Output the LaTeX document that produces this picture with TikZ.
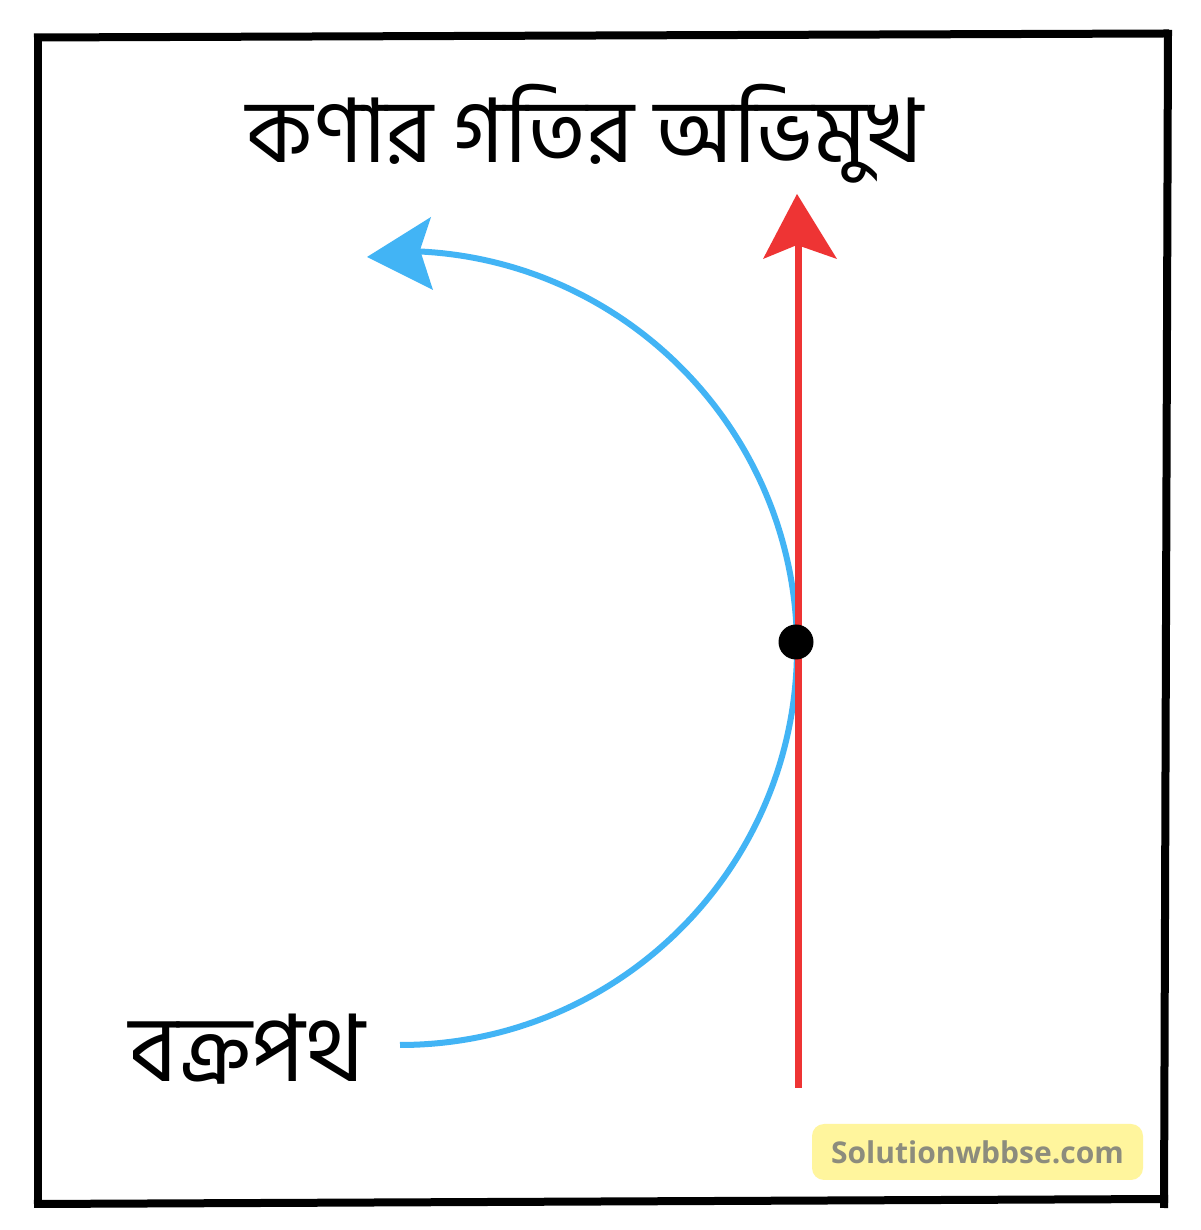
\documentclass[tikz,border=0pt]{standalone}
\usepackage{fontspec}
\newfontfamily\bnfont[Script=Bengali]{Hind Siliguri}
\newfontfamily\wmfont{Open Sans}
\definecolor{pathblue}{RGB}{66,180,245}
\definecolor{velred}{RGB}{238,52,52}
\definecolor{wmyellow}{RGB}{255,245,157}
\definecolor{wmgray}{RGB}{140,140,125}
\begin{document}
\begin{tikzpicture}[x=1pt,y=1pt,
  frameline/.style={line width=8pt,black},
  label/.style={font=\bnfont\fontsize{89}{96}\selectfont,inner sep=0pt}]
\useasboundingbox (0,0) rectangle (1200,1230);
\fill[white] (0,0) rectangle (1200,1230);
% frame
\draw[frameline] (34,1192.5) -- (1169,1196.5);
\draw[frameline] (38,1196) -- (38,22);
\draw[frameline] (34,26) -- (1168,31);
\draw[frameline] (1168,1200) -- (1164,22);
% title
\node[label] (title) at (585,1096) {কণার গতির অভিমুখ};
% curved path
\coordinate (pstart) at (400,185);
\draw[pathblue,line width=6pt] (pstart) arc[start angle=-90,end angle=90,radius=397] coordinate (pend);
\coordinate (btip) at (367,973);
\fill[pathblue] (btip) -- (431,1013) -- (420,980) -- (433,940) -- cycle;
% velocity
\coordinate (rbot) at (798,142);
\coordinate (rtop) at (798,985);
\draw[velred,line width=7pt] (rbot) -- (rtop);
\fill[velred] (797,1036) -- (763,971) -- (797,985) -- (837,971) -- cycle;
% particle
\node[circle,fill=black,minimum size=35pt,inner sep=0pt] (particle) at (796,588) {};
% label
\node[label,font=\bnfont\fontsize{93}{100}\selectfont] (curve) at (247,181) {বক্রপথ};
% watermark
\node[fill=wmyellow,rounded corners=12pt,minimum width=331pt,minimum height=56pt,inner sep=0pt,
  text=wmgray,font=\wmfont\bfseries\fontsize{30}{34}\selectfont] (wm) at (977.5,78) {Solutionwbbse.com};
\end{tikzpicture}
\end{document}
